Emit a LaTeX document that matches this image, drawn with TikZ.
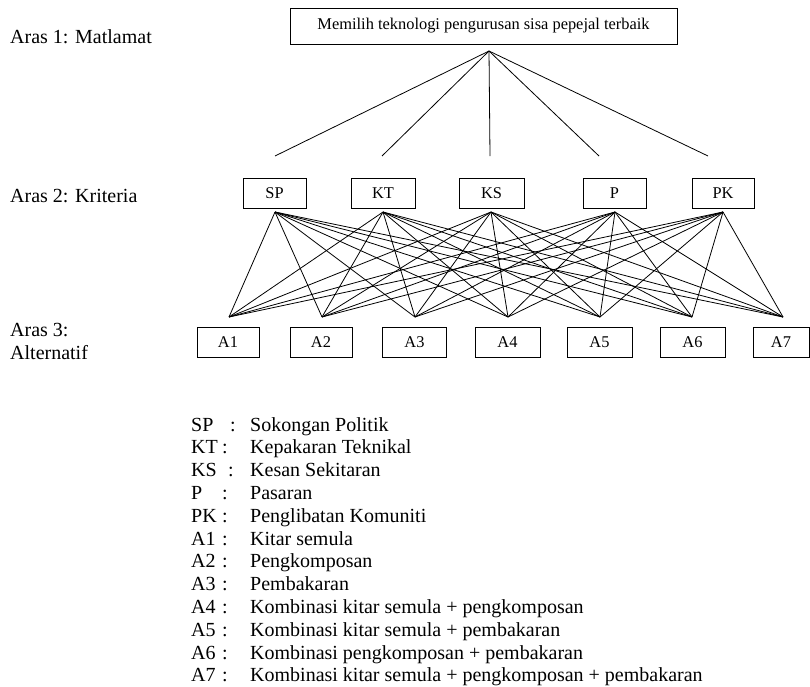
\documentclass[tikz,border=0pt]{standalone}
\usepackage{fontspec}
\setmainfont{Liberation Serif}
\begin{document}
\begin{tikzpicture}[x=1pt,y=-1pt,
  box/.style={draw,line width=0.9pt,minimum height=30pt,inner sep=0pt,font=\fontsize{16.4}{18}\selectfont},
  link/.style={line width=0.8pt},
  lbl/.style={anchor=base west,inner sep=0pt,font=\fontsize{20}{22}\selectfont}]
\useasboundingbox (0,0) rectangle (810,686);
% level 1
\node[box,minimum width=387pt,minimum height=36pt] (goal) at (483.5,26) {Memilih teknologi pengurusan sisa pepejal terbaik};
\coordinate (apex) at (489,51);
\coordinate (eSP) at (275,156);
\coordinate (eKT) at (382,156);
\coordinate (eKS) at (490,156);
\coordinate (eP) at (599,156);
\coordinate (ePK) at (708,156);
\foreach \e in {eSP,eKT,eKS,eP,ePK} \draw[link] (apex) -- (\e);
% level 2
\node[box,minimum width=63pt] (SP) at (274.5,193) {SP};
\node[box,minimum width=64pt] (KT) at (383,193) {KT};
\node[box,minimum width=65pt] (KS) at (491.5,193) {KS};
\node[box,minimum width=63pt] (P) at (614.5,193) {P};
\node[box,minimum width=62pt] (PK) at (723,193) {PK};
\coordinate (cSP) at (275,212);
\coordinate (cKT) at (383,212);
\coordinate (cKS) at (491,212);
\coordinate (cP) at (615,212);
\coordinate (cPK) at (723,212);
% level 3
\node[box,minimum width=62pt] (A1) at (228,342) {A1};
\node[box,minimum width=62pt] (A2) at (321,342) {A2};
\node[box,minimum width=64pt] (A3) at (414.5,342) {A3};
\node[box,minimum width=65pt] (A4) at (507.5,342) {A4};
\node[box,minimum width=65pt] (A5) at (599.5,342) {A5};
\node[box,minimum width=65pt] (A6) at (692.5,342) {A6};
\node[box,minimum width=56pt] (A7) at (781,342) {A7};
\coordinate (pA1) at (229,317);
\coordinate (pA2) at (322,317);
\coordinate (pA3) at (415,317);
\coordinate (pA4) at (508,317);
\coordinate (pA5) at (600,317);
\coordinate (pA6) at (692,317);
\coordinate (pA7) at (783,317);
\foreach \c in {cSP,cKT,cKS,cP,cPK}
  \foreach \a in {pA1,pA2,pA3,pA4,pA5,pA6,pA7}
    \draw[link] (\c) -- (\a);
% level labels
\node[lbl] (L1) at (10,43) {Aras 1: Matlamat};
\node[lbl] (L2) at (10,202) {Aras 2: Kriteria};
\node[lbl] (L3) at (10,336) {Aras 3:};
\node[lbl] (L3b) at (10,359) {Alternatif};
% legend
\foreach \ab/\cx/\txt [count=\i from 0] in {
  SP/230/Sokongan Politik,
  KT/222/Kepakaran Teknikal,
  KS/228/Kesan Sekitaran,
  P/222/Pasaran,
  PK/222/Penglibatan Komuniti,
  A1/222/Kitar semula,
  A2/222/Pengkomposan,
  A3/222/Pembakaran,
  A4/222/Kombinasi kitar semula + pengkomposan,
  A5/222/Kombinasi kitar semula + pembakaran,
  A6/222/Kombinasi pengkomposan + pembakaran,
  A7/222/Kombinasi kitar semula + pengkomposan + pembakaran}{
  \node[lbl] (k\i) at (191,431+22.8*\i) {\ab};
  \node[lbl] (c\i) at (\cx,431+22.8*\i) {:};
  \node[lbl] (d\i) at (250,431+22.8*\i) {\txt};
}
\end{tikzpicture}
\end{document}
